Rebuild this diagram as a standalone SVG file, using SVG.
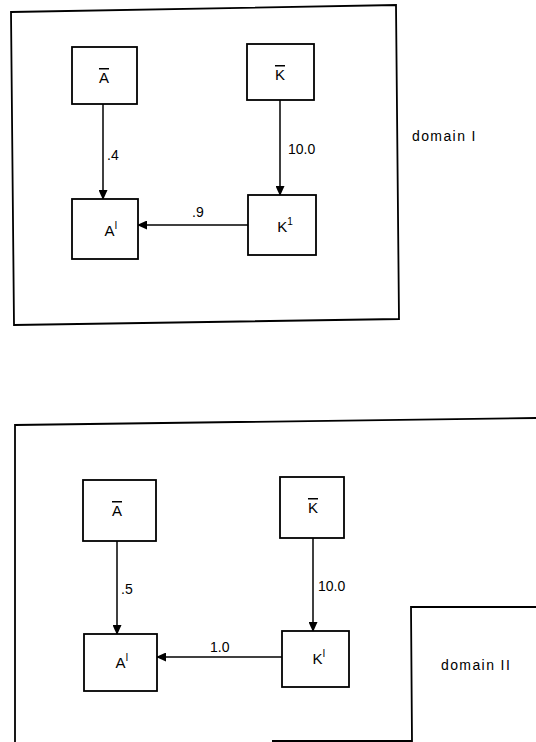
<svg xmlns="http://www.w3.org/2000/svg" width="536" height="742" viewBox="0 0 536 742">
<style>
.frame{fill:none;stroke:#000;stroke-width:1.8}
.box{fill:#fff;stroke:#000;stroke-width:1.8}
.edge{fill:none;stroke:#000;stroke-width:1.5}
text{font-family:"Liberation Sans",Arial,sans-serif;fill:#000}
.lbl{font-size:15px;text-anchor:middle}
.sup{font-size:10px}
.num{font-size:14px}
.dom{font-size:14px;letter-spacing:1.4px}
.ov{text-decoration:overline}
</style>
<defs>
<marker id="ah" markerWidth="10" markerHeight="9" refX="9" refY="4.5" orient="auto" markerUnits="userSpaceOnUse">
<path d="M0,0 L10,4.5 L0,9 Z" fill="#000"/>
</marker>
</defs>
<rect width="536" height="742" fill="#fff"/>
<g id="domain1">
<polygon class="frame" points="11,12 396,5 399,319 14,325"/>
<text class="dom" x="412" y="141">domain I</text>
</g>
<g id="domain2">
<polyline class="frame" points="536,418 15,425 15,742"/>
<polyline class="frame" points="272,741 412,741 411,607 536,607"/>
<text class="dom" x="441" y="670">domain II</text>
</g>
<g id="connectors">
<line class="edge" x1="103" y1="104" x2="103" y2="199" marker-end="url(#ah)"/>
<text class="num" x="107" y="160">.4</text>
<line class="edge" x1="280" y1="100" x2="280" y2="195" marker-end="url(#ah)"/>
<text class="num" x="288" y="154">10.0</text>
<line class="edge" x1="248" y1="225" x2="138" y2="225" marker-end="url(#ah)"/>
<text class="num" x="192" y="217">.9</text>
<line class="edge" x1="117" y1="541" x2="117" y2="634" marker-end="url(#ah)"/>
<text class="num" x="121" y="594">.5</text>
<line class="edge" x1="313" y1="538" x2="313" y2="631" marker-end="url(#ah)"/>
<text class="num" x="318" y="591">10.0</text>
<line class="edge" x1="282" y1="657" x2="157" y2="657" marker-end="url(#ah)"/>
<text class="num" x="210" y="652">1.0</text>
</g>
<g id="n-abar1"><rect class="box" x="72" y="47" width="65" height="57"/><text class="lbl ov" x="104" y="83">A</text></g>
<g id="n-kbar1"><rect class="box" x="247" y="44" width="67" height="56"/><text class="lbl ov" x="280" y="80">K</text></g>
<g id="n-aprime1"><rect class="box" x="72" y="199" width="66" height="60"/><text class="lbl" x="111" y="236">A<tspan class="sup" dy="-7">I</tspan></text></g>
<g id="n-kprime1"><rect class="box" x="248" y="195" width="68" height="60"/><text class="lbl" x="285" y="232">K<tspan class="sup" dy="-7">1</tspan></text></g>
<g id="n-abar2"><rect class="box" x="83" y="480" width="73" height="61"/><text class="lbl ov" x="117" y="516">A</text></g>
<g id="n-kbar2"><rect class="box" x="280" y="477" width="64" height="61"/><text class="lbl ov" x="313" y="513">K</text></g>
<g id="n-aprime2"><rect class="box" x="84" y="634" width="73" height="57"/><text class="lbl" x="122" y="668">A<tspan class="sup" dy="-7">I</tspan></text></g>
<g id="n-kprime2"><rect class="box" x="282" y="631" width="67" height="56"/><text class="lbl" x="319" y="664">K<tspan class="sup" dy="-7">I</tspan></text></g>
</svg>
